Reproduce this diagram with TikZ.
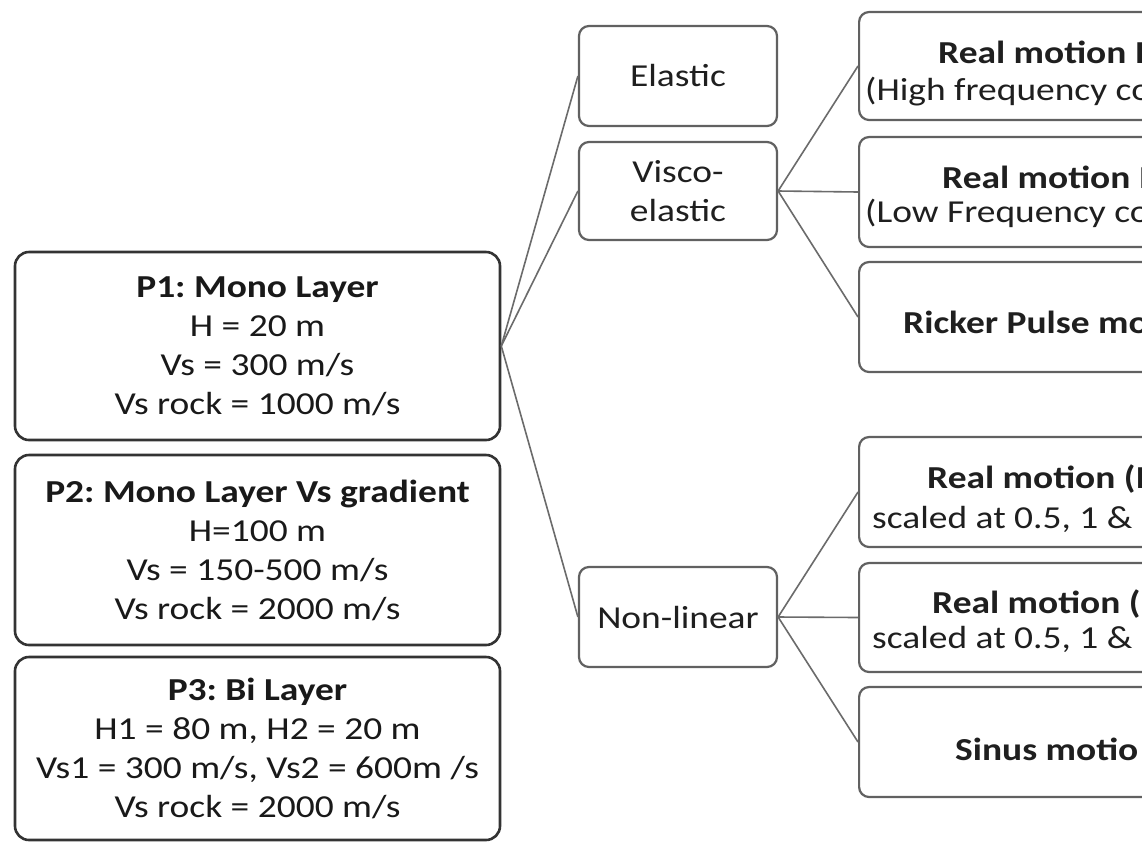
\documentclass[tikz,border=0pt]{standalone}
\usepackage{fontspec}
\setmainfont{Carlito}[FakeStretch=1.17]
\frenchspacing
\begin{document}
\begin{tikzpicture}[x=1pt,y=-1pt,
  basefont/.style={font=\fontsize{32}{39}\selectfont},
  lbox/.style={basefont, draw=black!80, line width=2.6pt, rounded corners=14pt,
    minimum width=485pt, align=center, text=black!90, inner sep=0pt},
  mbox/.style={basefont, draw=black!62, line width=2.2pt, rounded corners=10pt,
    minimum width=198pt, align=center, text=black!88, inner sep=0pt},
  rbox/.style={draw=black!62, line width=2.2pt, rounded corners=10pt,
    minimum width=420pt, anchor=west, inner sep=0pt},
  rtext/.style={basefont, anchor=base west, inner sep=0pt, text=black!88},
  conn/.style={draw=black!58, line width=1.6pt}]
\useasboundingbox (0,0) rectangle (1142,844);
\fill[white] (0,0) rectangle (1142,844);
\clip (0,0) rectangle (1142,844);

% left boxes
\node[lbox, minimum height=188pt] (p1) at (257.5,346)
  {\textbf{P1: Mono Layer}\\H = 20 m\\Vs = 300 m/s\\Vs rock = 1000 m/s};
\node[lbox, minimum height=190pt] (p2) at (257.5,550)
  {\textbf{P2: Mono Layer Vs gradient}\\H=100 m\\Vs = 150-500 m/s\\Vs rock = 2000 m/s};
\node[lbox, minimum height=183pt] (p3) at (257.5,748.5)
  {\textbf{P3: Bi Layer}\\H1 = 80 m, H2 = 20 m\\Vs1 = 300 m/s, Vs2 = 600m /s\\Vs rock = 2000 m/s};

% middle boxes
\node[mbox, minimum height=100pt] (el) at (678,76) {Elastic};
\node[mbox, minimum height=98pt] (ve) at (678,191) {Visco-\\elastic};
\node[mbox, minimum height=100pt] (nl) at (678,617) {Non-linear};

% right boxes
\node[rbox, minimum height=108pt] (r1) at (858,66) {};
\node[rbox, minimum height=110pt] (r2) at (858,192) {};
\node[rbox, minimum height=110pt] (r3) at (858,317) {};
\node[rbox, minimum height=110pt] (r4) at (858,492) {};
\node[rbox, minimum height=109pt] (r5) at (858,617.5) {};
\node[rbox, minimum height=110pt] (r6) at (858,742) {};

% right box texts
\node[rtext] (t1a) at (938,63) {\textbf{Real motion I}};
\node[rtext] (t1b) at (865,100) {(High frequency co};
\node[rtext] (t2a) at (942,188) {\textbf{Real motion I}};
\node[rtext] (t2b) at (865,222) {(Low Frequency co};
\node[rtext] (t3a) at (903,333) {\textbf{Ricker Pulse mo}};
\node[rtext] (t4a) at (927,488) {\textbf{Real motion (I}};
\node[rtext] (t4b) at (872,528) {scaled at 0.5, 1 \&};
\node[rtext] (t5a) at (932,613) {\textbf{Real motion (}};
\node[rtext] (t5b) at (872,648) {scaled at 0.5, 1 \&};
\node[rtext] (t6a) at (955,760) {\textbf{Sinus motio}};

% connectors
\draw[conn] (p1.east) -- (el.west);
\draw[conn] (p1.east) -- (ve.west);
\draw[conn] (p1.east) -- (nl.west);
\draw[conn] (ve.east) -- (r1.west);
\draw[conn] (ve.east) -- (r2.west);
\draw[conn] (ve.east) -- (r3.west);
\draw[conn] (nl.east) -- (r4.west);
\draw[conn] (nl.east) -- (r5.west);
\draw[conn] (nl.east) -- (r6.west);
\end{tikzpicture}
\end{document}
